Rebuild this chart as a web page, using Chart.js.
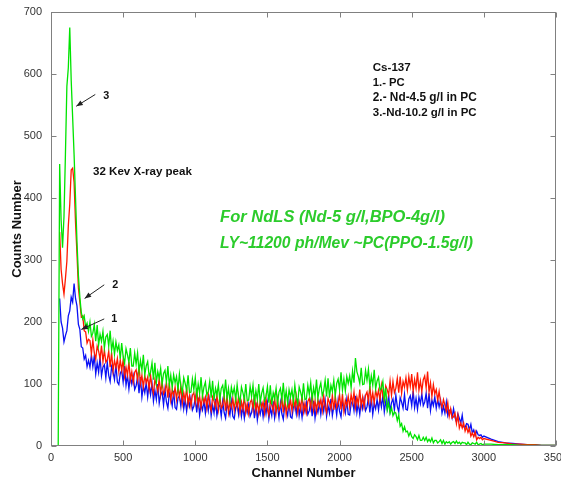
<!DOCTYPE html>
<html>
<head>
<meta charset="utf-8">
<title>Cs-137 spectra</title>
<script src="https://cdn.jsdelivr.net/npm/chart.js@4.4.1/dist/chart.umd.min.js"></script>
<style>
  html, body { margin: 0; padding: 0; background: #fff; }
</style>
</head>
<body>
<canvas id="spectrumChart" width="561" height="489"></canvas>
<script>
// channel grid: X-ray peak region, then the Compton part, then the tail
const channelsLow = [50, 60, 70, 80, 90, 100, 110, 120, 130, 140, 150, 160, 170, 180, 190, 200, 210, 220, 230, 240, 250, 260];
const channelsMid = [
  270, 280, 290, 300, 310, 320, 330, 340, 350, 360,
  370, 380, 390, 400, 410, 420, 430, 440, 450, 460,
  470, 480, 490, 500, 510, 520, 530, 540, 550, 560,
  570, 580, 590, 600, 610, 620, 630, 640, 650, 660,
  670, 680, 690, 700, 710, 720, 730, 740, 750, 760,
  770, 780, 790, 800, 810, 820, 830, 840, 850, 860,
  870, 880, 890, 900, 910, 920, 930, 940, 950, 960,
  970, 980, 990, 1000, 1010, 1020, 1030, 1040, 1050, 1060,
  1070, 1080, 1090, 1100, 1110, 1120, 1130, 1140, 1150, 1160,
  1170, 1180, 1190, 1200, 1210, 1220, 1230, 1240, 1250, 1260,
  1270, 1280, 1290, 1300, 1310, 1320, 1330, 1340, 1350, 1360,
  1370, 1380, 1390, 1400, 1410, 1420, 1430, 1440, 1450, 1460,
  1470, 1480, 1490, 1500, 1510, 1520, 1530, 1540, 1550, 1560,
  1570, 1580, 1590, 1600, 1610, 1620, 1630, 1640, 1650, 1660,
  1670, 1680, 1690, 1700, 1710, 1720, 1730, 1740, 1750, 1760,
  1770, 1780, 1790, 1800, 1810, 1820, 1830, 1840, 1850, 1860,
  1870, 1880, 1890, 1900, 1910, 1920, 1930, 1940, 1950, 1960,
  1970, 1980, 1990, 2000, 2010, 2020, 2030, 2040, 2050, 2060,
  2070, 2080, 2090, 2100, 2110, 2120, 2130, 2140, 2150, 2160,
  2170, 2180, 2190, 2200, 2210, 2220, 2230, 2240, 2250, 2260,
  2270, 2280, 2290, 2300, 2310, 2320, 2330, 2340, 2350, 2360,
  2370, 2380, 2390, 2400, 2410, 2420, 2430, 2440, 2450, 2460,
  2470, 2480, 2490, 2500, 2510, 2520, 2530, 2540, 2550, 2560,
  2570, 2580, 2590, 2600, 2610, 2620, 2630, 2640, 2650, 2660,
  2670, 2680, 2690, 2700, 2710, 2720, 2730, 2740, 2750, 2760,
  2770, 2780, 2790, 2800, 2810, 2820, 2830, 2840, 2850, 2860,
  2870, 2880, 2890, 2900, 2910, 2920, 2930, 2940, 2950, 2960,
  2970, 2980, 2990, 3000
];
const channelsTail = [3050, 3100, 3150, 3200, 3250, 3300, 3350, 3400, 3450, 3500];

// 3.-Nd-10.2 g/l in PC (green)
const ndHighLow = [0, 455, 365, 320, 370, 470, 580, 610, 675, 590, 530, 470, 400, 330, 275, 240, 215, 205, 210, 192, 198, 185];
const ndHighMid = [
  200, 177, 182, 196, 169, 195, 163, 180, 169, 185,
  158, 176, 180, 161, 186, 154, 169, 148, 168, 154,
  163, 141, 166, 144, 133, 157, 147, 135, 158, 129,
  129, 150, 132, 150, 120, 138, 122, 147, 115, 129,
  136, 113, 119, 134, 107, 134, 102, 120, 109, 125,
  99, 117, 122, 103, 129, 98, 114, 94, 115, 102,
  112, 91, 116, 96, 86, 110, 101, 90, 114, 86,
  87, 108, 91, 110, 81, 100, 85, 111, 80, 95,
  103, 82, 88, 104, 78, 105, 74, 93, 82, 99,
  74, 93, 98, 80, 107, 77, 93, 73, 95, 83,
  94, 74, 99, 79, 70, 95, 86, 75, 100, 73,
  74, 96, 80, 98, 70, 89, 75, 100, 70, 85,
  94, 73, 80, 96, 70, 98, 67, 86, 76, 93,
  68, 87, 93, 75, 102, 72, 89, 69, 91, 79,
  91, 71, 98, 78, 69, 95, 87, 76, 101, 75,
  76, 98, 83, 102, 75, 94, 80, 107, 77, 93,
  102, 81, 89, 106, 80, 109, 78, 98, 88, 106,
  81, 101, 108, 91, 119, 90, 108, 89, 112, 101,
  113, 94, 121, 102, 142, 120, 112, 101, 126, 99,
  100, 122, 106, 124, 95, 113, 98, 123, 92, 105,
  111, 90, 93, 104, 75, 94, 58, 69, 53, 62,
  49, 55, 53, 41, 50, 32, 36, 24, 31, 23,
  24, 16, 22, 15, 12, 18, 15, 10, 17, 9,
  9, 14, 9, 14, 7, 11, 7, 13, 5, 9,
  9, 5, 7, 10, 4, 9, 3, 7, 5, 7,
  3, 6, 7, 4, 8, 4, 6, 3, 6, 5,
  5, 2, 6, 3, 2, 5, 4, 3, 6, 2,
  3, 4, 2, 3
];
const ndHighTail = [3, 2, 2, 2, 1, 1, 1, 1, 1, 1];

// 2.- Nd-4.5 g/l in PC (red)
const ndLowLow = [null, 345, 285, 262, 245, 270, 298, 355, 390, 445, 448, 425, 360, 310, 255, 232, 208, 210, 186, 184, 166, 172];
const ndLowMid = [
  170, 149, 171, 150, 140, 161, 153, 141, 162, 136,
  155, 135, 139, 153, 127, 151, 121, 138, 127, 141,
  120, 139, 122, 139, 112, 127, 114, 136, 107, 120,
  103, 119, 123, 106, 129, 101, 114, 95, 114, 102,
  111, 92, 114, 95, 85, 107, 99, 88, 109, 84,
  104, 84, 89, 103, 78, 102, 74, 91, 81, 95,
  75, 95, 79, 96, 69, 86, 73, 95, 67, 81,
  64, 82, 86, 70, 93, 66, 80, 62, 81, 70,
  79, 61, 84, 66, 57, 79, 72, 62, 83, 59,
  80, 61, 66, 81, 57, 82, 54, 71, 62, 77,
  58, 78, 62, 80, 54, 71, 59, 81, 54, 68,
  52, 70, 75, 59, 83, 56, 71, 53, 73, 62,
  71, 53, 77, 59, 50, 73, 66, 56, 78, 54,
  76, 57, 63, 78, 54, 79, 51, 69, 60, 75,
  57, 77, 62, 80, 54, 71, 59, 82, 55, 69,
  54, 72, 77, 61, 85, 58, 73, 55, 75, 64,
  75, 57, 81, 63, 54, 77, 70, 60, 82, 58,
  81, 62, 68, 83, 59, 84, 56, 74, 65, 80,
  63, 83, 69, 87, 62, 79, 67, 91, 64, 79,
  63, 82, 87, 72, 97, 71, 86, 69, 90, 79,
  90, 73, 98, 81, 73, 97, 91, 82, 105, 82,
  104, 86, 93, 109, 86, 112, 85, 104, 95, 110,
  90, 112, 96, 116, 88, 107, 93, 119, 90, 105,
  88, 107, 113, 94, 120, 87, 102, 80, 99, 84,
  91, 74, 88, 71, 62, 75, 66, 56, 70, 48,
  60, 45, 47, 53, 36, 50, 29, 37, 29, 37,
  24, 31, 22, 28, 16, 21, 15, 23, 10, 14,
  12, 14, 10, 12
];
const ndLowTail = [9, 6, 5, 3, 3, 2, 2, 1, 1, 1];

// 1.- PC (blue)
const pcLow = [null, 238, 200, 190, 168, 178, 186, 210, 218, 240, 232, 262, 238, 226, 196, 188, 160, 158, 140, 146, 128, 138];
const pcMid = [
  127, 147, 128, 145, 116, 134, 119, 144, 113, 127,
  131, 110, 135, 114, 104, 128, 119, 107, 131, 103,
  99, 117, 122, 103, 129, 98, 114, 92, 113, 100,
  113, 91, 97, 112, 85, 111, 79, 97, 86, 102,
  79, 100, 83, 101, 72, 90, 75, 100, 69, 83,
  87, 66, 91, 71, 61, 85, 77, 65, 89, 62,
  59, 77, 81, 64, 88, 60, 75, 56, 76, 64,
  78, 58, 64, 78, 54, 78, 50, 67, 58, 73,
  53, 73, 57, 75, 49, 66, 53, 76, 49, 63,
  66, 48, 72, 54, 45, 67, 60, 50, 72, 48,
  44, 62, 67, 51, 75, 48, 63, 45, 65, 54,
  67, 48, 54, 69, 45, 70, 42, 60, 51, 66,
  47, 67, 52, 70, 44, 61, 49, 72, 45, 59,
  64, 46, 70, 52, 43, 66, 59, 49, 71, 47,
  45, 63, 68, 52, 76, 49, 64, 46, 66, 55,
  70, 51, 57, 72, 48, 73, 45, 63, 54, 69,
  51, 71, 56, 74, 48, 65, 53, 76, 49, 63,
  68, 50, 74, 56, 47, 70, 63, 53, 75, 51,
  50, 68, 73, 57, 81, 54, 69, 51, 71, 60,
  76, 57, 63, 78, 54, 79, 51, 69, 60, 75,
  58, 78, 63, 81, 55, 72, 60, 83, 56, 70,
  76, 58, 82, 64, 55, 78, 71, 61, 83, 59,
  58, 76, 81, 65, 89, 62, 77, 59, 79, 68,
  84, 65, 71, 85, 61, 85, 57, 74, 65, 79,
  61, 75, 63, 74, 53, 64, 53, 71, 49, 57,
  59, 46, 60, 46, 39, 52, 45, 37, 50, 31,
  30, 36, 35, 26, 35, 21, 26, 17, 24, 18,
  17, 18, 14, 16
];
const pcTail = [11, 7, 5, 4, 3, 2, 2, 1, 1, 1];

const xTicks = [0, 500, 1000, 1500, 2000, 2500, 3000, 3500];
const yTicks = [0, 100, 200, 300, 400, 500, 600, 700];

const channels = channelsLow.concat(channelsMid, channelsTail);
const series = [
  { label: "3.-Nd-10.2 g/l in PC", values: ndHighLow.concat(ndHighMid, ndHighTail), color: "#00e400" },
  { label: "2.- Nd-4.5 g/l in PC", values: ndLowLow.concat(ndLowMid, ndLowTail), color: "#ff1800" },
  { label: "1.- PC", values: pcLow.concat(pcMid, pcTail), color: "#0a10f5" },
];

const FONT = "'Liberation Sans', Arial, Helvetica, sans-serif";

// annotations, anchored in data units (w = target text width in px)
const notes = [
  { text: "3", x: 362, y: 564, w: 6, style: "bold" },
  { text: "2", x: 424, y: 259, w: 6, style: "bold" },
  { text: "1", x: 418, y: 204, w: 6, style: "bold" },
  { text: "32 Kev X-ray peak", x: 291, y: 443, w: 99, style: "bold" },
  { text: "Cs-137", x: 2230, y: 610, w: 38, style: "bold" },
  { text: "1.- PC", x: 2230, y: 586, w: 32, style: "bold" },
  { text: "2.- Nd-4.5 g/l in PC", x: 2230, y: 562, w: 104, style: "bold" },
  { text: "3.-Nd-10.2 g/l in PC", x: 2230, y: 538, w: 104, style: "bold" },
  { text: "For NdLS (Nd-5 g/l,BPO-4g/l)", x: 1172, y: 368, w: 225, style: "italic bold", color: "#2ccc2c" },
  { text: "LY~11200 ph/Mev ~PC(PPO-1.5g/l)", x: 1172, y: 326, w: 253, style: "italic bold", color: "#2ccc2c" },
];
const arrows = [
  { from: [307, 567], to: [175, 548] },
  { from: [369, 260], to: [233, 238] },
  { from: [369, 205], to: [210, 188] },
];

function drawArrow(ctx, x1, y1, x2, y2) {
  const ang = Math.atan2(y2 - y1, x2 - x1);
  ctx.beginPath();
  ctx.moveTo(x1, y1);
  ctx.lineTo(x2, y2);
  ctx.stroke();
  ctx.beginPath();
  ctx.moveTo(x2, y2);
  ctx.lineTo(x2 - 7 * Math.cos(ang - 0.38), y2 - 7 * Math.sin(ang - 0.38));
  ctx.lineTo(x2 - 7 * Math.cos(ang + 0.38), y2 - 7 * Math.sin(ang + 0.38));
  ctx.closePath();
  ctx.fill();
}

const framePlugin = {
  id: "frame",
  afterDatasetsDraw(chart) {
    const { ctx, chartArea: a, scales } = chart;
    const l = Math.round(a.left) + 0.5, r = Math.round(a.right) - 0.5;
    const t = Math.round(a.top) + 0.5, b = Math.round(a.bottom) - 0.5;
    ctx.save();
    ctx.strokeStyle = "#808080";
    ctx.lineWidth = 1;
    ctx.strokeRect(l, t, r - l, b - t);
    ctx.beginPath();
    xTicks.forEach((v) => {
      const px = Math.round(scales.x.getPixelForValue(v)) + 0.5;
      ctx.moveTo(px, b); ctx.lineTo(px, b - 5);
      ctx.moveTo(px, t); ctx.lineTo(px, t + 5);
    });
    yTicks.forEach((v) => {
      const py = Math.round(scales.y.getPixelForValue(v)) + 0.5;
      ctx.moveTo(l, py); ctx.lineTo(l + 5, py);
      ctx.moveTo(r, py); ctx.lineTo(r - 5, py);
    });
    ctx.stroke();

    // text notes
    ctx.textBaseline = "middle";
    ctx.textAlign = "left";
    notes.forEach((n) => {
      ctx.font = `${n.style} 20px ${FONT}`;
      const size = (20 * n.w) / ctx.measureText(n.text).width;
      ctx.font = `${n.style} ${size.toFixed(2)}px ${FONT}`;
      ctx.fillStyle = n.color || "#111";
      ctx.fillText(n.text, scales.x.getPixelForValue(n.x), scales.y.getPixelForValue(n.y));
    });

    ctx.strokeStyle = "#222";
    ctx.fillStyle = "#222";
    arrows.forEach((ar) => {
      drawArrow(ctx,
        scales.x.getPixelForValue(ar.from[0]), scales.y.getPixelForValue(ar.from[1]),
        scales.x.getPixelForValue(ar.to[0]), scales.y.getPixelForValue(ar.to[1]));
    });
    ctx.restore();
  },
};

const ctx = document.getElementById("spectrumChart").getContext("2d");
new Chart(ctx, {
  type: "line",
  data: {
    datasets: series.map((s) => ({
      label: s.label,
      data: channels.map((c, i) => ({ x: c, y: s.values[i] })),
      borderColor: s.color,
      borderWidth: 1.3,
      pointRadius: 0,
      tension: 0,
      fill: false,
    })),
  },
  options: {
    responsive: false,
    animation: false,
    layout: { padding: { left: 0, right: 5, top: 12, bottom: 0 } },
    plugins: { legend: { display: false }, tooltip: { enabled: false } },
    scales: {
      x: {
        type: "linear",
        min: 0,
        max: 3500,
        afterBuildTicks: (s) => { s.ticks = xTicks.map((v) => ({ value: v })); },
        afterFit: (s) => { s.height = 43; s.paddingLeft = 0; s.paddingRight = 0; },
        grid: { display: false, drawTicks: false },
        border: { display: false },
        ticks: {
          color: "#333", padding: 5, maxRotation: 0, autoSkip: false,
          font: { size: 11, family: FONT },
          callback: (v) => String(v),
        },
        title: { display: true, text: "Channel Number", color: "#111", padding: { top: 0, bottom: 8 }, font: { size: 13, weight: "bold", family: FONT } },
      },
      y: {
        min: 0,
        max: 700,
        afterBuildTicks: (s) => { s.ticks = yTicks.map((v) => ({ value: v })); },
        afterFit: (s) => { s.width = 51; s.paddingTop = 0; s.paddingBottom = 0; },
        grid: { display: false, drawTicks: false },
        border: { display: false },
        ticks: { color: "#333", padding: 9, font: { size: 11, family: FONT }, callback: (v) => String(v) },
        title: { display: true, text: "Counts Number", color: "#111", padding: { top: 10, bottom: 0 }, font: { size: 13, weight: "bold", family: FONT } },
      },
    },
  },
  plugins: [framePlugin],
});
</script>
</body>
</html>
